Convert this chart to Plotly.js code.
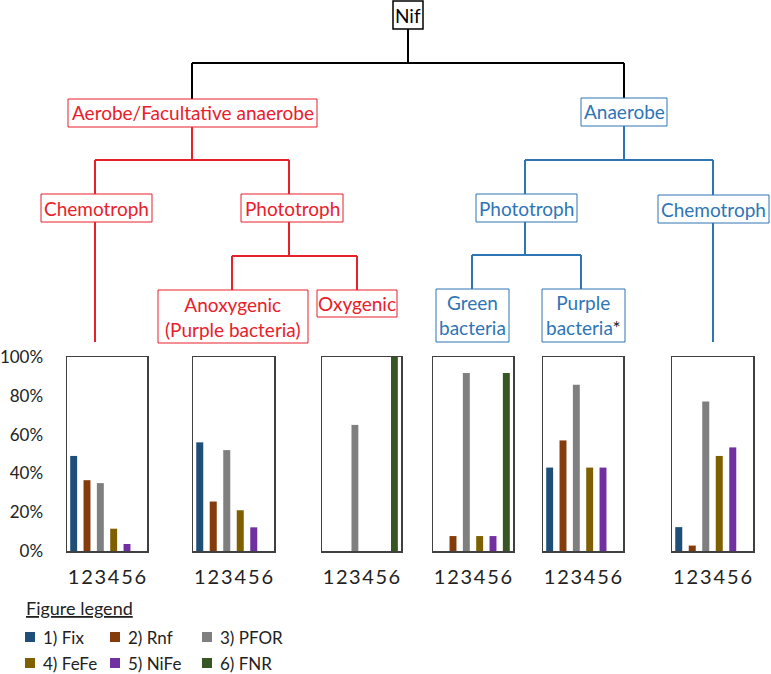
<!DOCTYPE html>
<html>
<head>
<meta charset="utf-8">
<script src="https://cdn.plot.ly/plotly-3.0.1.min.js"></script>
<style>html,body{margin:0;padding:0;background:#fff;}#chart{width:771px;height:674px;}</style>
</head>
<body>
<div id="chart"></div>
<script>
// ---- Data ----
const categories = ['1', '2', '3', '4', '5', '6'];
const seriesNames = ['1) Fix', '2) Rnf', '3) PFOR', '4) FeFe', '5) NiFe', '6) FNR'];
const seriesColors = ['#1F4E79', '#843C0C', '#7F7F7F', '#7F6000', '#7030A0', '#375623'];
const panelNames = ['Aerobe chemotroph', 'Aerobe anoxygenic phototroph', 'Aerobe oxygenic phototroph',
                    'Anaerobe green bacteria', 'Anaerobe purple bacteria', 'Anaerobe chemotroph'];
const aerobeChemotroph   = [0.49, 0.365, 0.35, 0.115, 0.036, 0];
const aerobeAnoxygenic   = [0.56, 0.255, 0.52, 0.21, 0.122, 0];
const aerobeOxygenic     = [0, 0, 0.65, 0, 0, 1.0];
const anaerobeGreen      = [0, 0.077, 0.918, 0.077, 0.077, 0.918];
const anaerobePurple     = [0.43, 0.57, 0.857, 0.43, 0.43, 0];
const anaerobeChemotroph = [0.123, 0.028, 0.771, 0.49, 0.534, 0];
const panelValues = [aerobeChemotroph, aerobeAnoxygenic, aerobeOxygenic, anaerobeGreen, anaerobePurple, anaerobeChemotroph];
const yTickVals = [0, 0.2, 0.4, 0.6, 0.8, 1.0];
const yTickText = ['0%', '20%', '40%', '60%', '80%', '100%'];

// ---- Layout helpers ----
const W = 771, H = 674;
const FONT = 'Lato, "Open Sans", sans-serif';
const RED = '#e8202a', BLUE = '#2e75b6', BLACK = '#000000';
const X = px => px / W;
const Y = py => 1 - py / H;

const panelLeft  = [67, 193, 322, 433, 543, 672];
const panelRight = [147, 274, 401, 513, 623, 753];
const panelTop = 357, panelBottom = 551;

const data = [];
const layout = {
  width: W, height: H,
  margin: {l: 0, r: 0, t: 0, b: 0},
  paper_bgcolor: '#ffffff', plot_bgcolor: '#ffffff',
  showlegend: false,
  barmode: 'overlay',
  font: {family: FONT, color: '#222', size: 18},
  shapes: [], annotations: []
};

panelValues.forEach((vals, p) => {
  const n = p + 1;
  const xa = n === 1 ? 'x' : 'x' + n;
  const ya = n === 1 ? 'y' : 'y' + n;
  data.push({
    type: 'bar', name: panelNames[p],
    x: categories, y: vals,
    xaxis: xa, yaxis: ya,
    width: 0.52,
    marker: {color: seriesColors, line: {width: 0}},
    hoverinfo: 'x+y'
  });
  const xKey = n === 1 ? 'xaxis' : 'xaxis' + n;
  const yKey = n === 1 ? 'yaxis' : 'yaxis' + n;
  layout[xKey] = {
    domain: [X(panelLeft[p]), X(panelRight[p])],
    anchor: ya, type: 'category', categoryarray: categories,
    range: [-0.5, 5.5],
    tickmode: 'array', tickvals: categories, ticktext: categories, tickangle: 0,
    showline: true, mirror: true, linecolor: '#404040', linewidth: 1.5,
    showgrid: false, zeroline: false, ticks: '',
    ticklabelstandoff: 7,
    tickfont: {family: FONT, size: 20, color: '#222'},
    fixedrange: true
  };
  layout[yKey] = {
    domain: [Y(panelBottom), Y(panelTop)],
    anchor: xa, range: [0, 1],
    showline: true, mirror: true, linecolor: '#404040', linewidth: 1.5,
    showgrid: false, zeroline: false, ticks: '',
    tickmode: 'array', tickvals: yTickVals, ticktext: yTickText,
    showticklabels: n === 1,
    ticklabelstandoff: 19,
    tickfont: {family: FONT, size: 17, color: '#222'},
    fixedrange: true
  };
});

// ---- Tree diagram ----
function line(x0, y0, x1, y1, color) {
  layout.shapes.push({type: 'line', xref: 'paper', yref: 'paper',
    x0: X(x0), y0: Y(y0), x1: X(x1), y1: Y(y1), line: {color: color, width: 2}});
}
[[408,29,408,63],[192,63,624,63],[192,63,192,99],[624,63,624,98]].forEach(s => line(...s, BLACK));
[[192,127,192,160],[95,160,289,160],[95,160,95,194],[289,160,289,194],[95,222,95,342],
 [289,222,289,256],[232,256,357,256],[232,256,232,290],[357,256,357,290]].forEach(s => line(...s, RED));
[[624,126,624,160],[525,160,713,160],[525,160,525,195],[713,160,713,195],[525,222,525,255],
 [472,255,581,255],[472,255,472,289],[581,255,581,289],[713,223,713,342]].forEach(s => line(...s, BLUE));

const boxes = [
  [393, 1, 423, 29, 'Nif', BLACK],
  [68, 99, 317, 127, 'Aerobe/Facultative anaerobe', RED],
  [581, 98, 667, 126, 'Anaerobe', BLUE],
  [41, 194, 152, 222, 'Chemotroph', RED],
  [241, 194, 343, 222, 'Phototroph', RED],
  [158, 290, 308, 343, 'Anoxygenic<br>(Purple bacteria)', RED],
  [317, 290, 397, 317, 'Oxygenic', RED],
  [476, 194, 577, 222, 'Phototroph', BLUE],
  [658, 195, 769, 223, 'Chemotroph', BLUE],
  [436, 289, 509, 342, 'Green<br>bacteria', BLUE],
  [542, 289, 625, 342, 'Purple<br>bacteria<span style="color:#222">*</span>', BLUE]
];
boxes.forEach(([x0, y0, x1, y1, txt, col]) => {
  layout.shapes.push({type: 'rect', xref: 'paper', yref: 'paper',
    x0: X(x0), y0: Y(y0), x1: X(x1), y1: Y(y1),
    line: {color: col, width: col === BLACK ? 1.5 : 1}, fillcolor: '#ffffff', layer: 'above'});
  layout.annotations.push({xref: 'paper', yref: 'paper',
    x: X((x0 + x1) / 2), y: Y((y0 + y1) / 2), xanchor: 'center', yanchor: 'middle',
    text: txt, showarrow: false, font: {family: FONT, size: 19, color: col}});
});

// ---- Figure legend ----
layout.annotations.push({xref: 'paper', yref: 'paper', x: X(24), y: Y(608),
  xanchor: 'left', yanchor: 'middle', text: '<u>Figure legend</u>', showarrow: false,
  font: {family: FONT, size: 18, color: '#222'}});
const legX = [25, 110, 202];
const legY = [637, 663];
seriesNames.forEach((name, i) => {
  const cx = legX[i % 3], cy = legY[Math.floor(i / 3)];
  layout.shapes.push({type: 'rect', xref: 'paper', yref: 'paper',
    x0: X(cx), x1: X(cx + 10), y0: Y(cy + 5), y1: Y(cy - 5),
    line: {width: 0}, fillcolor: seriesColors[i]});
  layout.annotations.push({xref: 'paper', yref: 'paper', x: X(cx + 16), y: Y(cy),
    xanchor: 'left', yanchor: 'middle', text: name, showarrow: false,
    font: {family: FONT, size: 17, color: '#222'}});
});

Plotly.newPlot('chart', data, layout, {staticPlot: true, displayModeBar: false});
</script>
</body>
</html>
